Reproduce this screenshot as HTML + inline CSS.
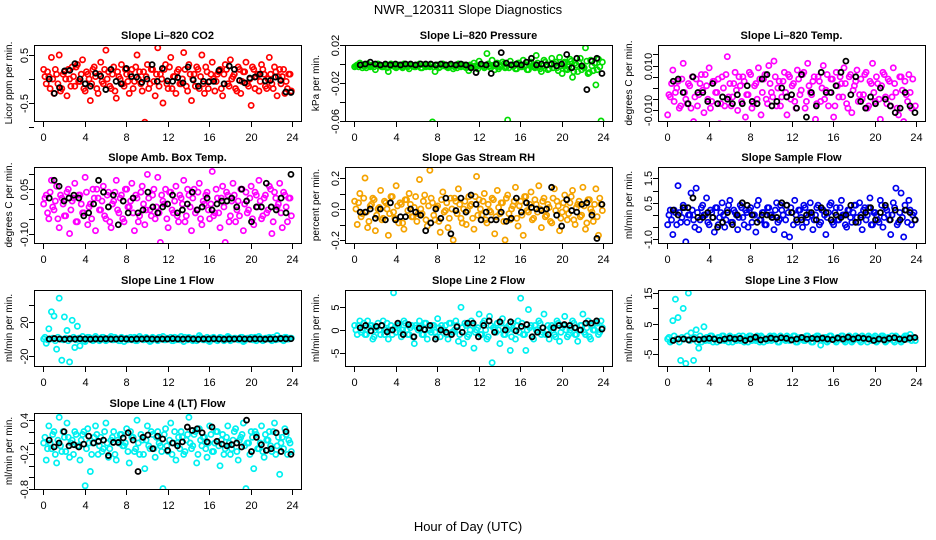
<!DOCTYPE html>
<html><head><meta charset="utf-8"><title>NWR_120311 Slope Diagnostics</title>
<style>
html,body{margin:0;padding:0;background:#fff;}
svg{display:block;font-family:"Liberation Sans",Arial,sans-serif;}
</style></head>
<body>
<svg id="chart" width="936" height="540" viewBox="0 0 936 540" xmlns="http://www.w3.org/2000/svg">
<text x="468" y="14" text-anchor="middle" font-size="13">NWR_120311  Slope Diagnostics</text>
<text x="468" y="531" text-anchor="middle" font-size="13">Hour of Day (UTC)</text>
</svg>
<script>
const hourTicks = [0,4,8,12,16,20,24];

const co2Color = [0.2,-0.1,0.05,0.45,-0.3,0.1,0.5,-0.2,0.15,-0.35,0.0,0.25,-0.15,0.3,-0.05,0.4,-0.25,0.1,-0.45,0.2,0.05,-0.3,0.35,-0.1,0.6,0.15,-0.2,0.25,-0.4,0.05,0.3,-0.15,0.1,-0.3,0.2,-0.05,0.5,0.15,-0.25,-0.9,0.3,-0.1,0.2,-0.35,0.65,0.1,-0.5,0.3,-0.2,0.45,0.05,-0.3,0.2,-0.1,0.55,-0.15,0.3,-0.45,0.1,0.25,-0.2,0.5,-0.3,0.15,-0.05,0.35,-0.25,0.1,0.2,-0.35,0.3,-0.1,0.4,0.05,-0.2,0.25,-0.3,0.15,0.35,-0.15,-0.55,0.2,0.05,-0.25,0.3,0.1,-0.2,0.45,-0.1,0.25,-0.35,0.2,0.05,-0.3,-0.2,0.1];
const co2Color2 = [0.05,0.15,-0.2,0.0,0.2,-0.1,-0.25,0.1,0.0,0.2,-0.15,0.05,0.25,-0.05,0.1,-0.2,0.15,0.0,-0.1,0.25,-0.2,0.1,-0.05,0.2,0.0,-0.15,0.1,-0.25,0.15,0.0,-0.1,0.2,-0.05,0.1,-0.2,0.25,0.0,-0.1,0.15,0.05,-0.2,0.2,-0.05,0.1,-0.15,0.0,0.2,-0.1,0.25,-0.2,0.05,0.15,-0.1,0.0,0.2,-0.25,0.1,0.0,-0.15,0.2,0.05,-0.1,0.25,-0.2,0.1,0.0,-0.05,0.15,-0.2,0.1,0.2,-0.15,0.0,0.1,-0.25,0.2,-0.05,0.15,-0.1,0.0,0.25,-0.2,0.1,-0.05,0.2,-0.15,0.0,0.1,-0.2,0.15,0.05,-0.1,0.2,-0.05,0.1,-0.25];
const co2Black = [0.0,-0.3,-0.18,0.17,0.18,0.32,0.0,-0.1,-0.15,0.12,0.06,-0.22,0.2,-0.05,-0.1,0.22,0.05,0.04,-0.07,0.0,0.3,-0.05,0.22,-0.04,-0.05,0.03,-0.08,0.25,-0.02,-0.15,-0.05,-0.06,-0.05,0.18,-0.1,0.27,0.2,-0.03,-0.08,0.02,0.04,0.1,-0.04,-0.03,0.04,-0.03,-0.27,-0.28];
const co2Ticks = [-1,-0.5,0,0.5];
const co2Labels = ["","-0.5","","0.5"];

const presColor = [-0.003,-0.001,0.001,-0.004,-0.002,0.0,-0.003,-0.001,-0.006,0.0,-0.002,-0.003,-0.001,-0.008,0.0,-0.002,-0.004,-0.001,-0.003,0.0,-0.002,-0.005,-0.001,-0.003,-0.002,0.0,-0.004,-0.001,-0.002,-0.003,-0.061,-0.008,-0.001,-0.003,0.0,-0.002,-0.004,-0.001,-0.005,-0.002,0.0,-0.003,-0.001,-0.004,-0.007,-0.002,0.001,-0.003,0.003,-0.001,-0.004,0.011,-0.002,0.004,-0.006,0.001,-0.003,0.002,-0.004,-0.059,0.003,-0.002,-0.005,0.001,-0.003,0.004,-0.001,-0.006,0.002,-0.003,0.009,-0.002,-0.008,0.004,-0.001,-0.005,0.006,0.0,-0.004,0.007,-0.010,0.002,-0.006,0.005,-0.014,0.001,-0.008,0.006,-0.003,0.017,-0.010,0.004,-0.007,-0.022,0.005,-0.060];
const presColor2 = [-0.002,-0.003,-0.001,-0.002,-0.004,-0.001,-0.002,-0.003,-0.001,-0.002,-0.003,-0.002,-0.004,-0.001,-0.002,-0.003,-0.001,-0.002,-0.004,-0.002,-0.003,-0.001,-0.002,-0.003,-0.002,-0.004,-0.001,-0.003,-0.002,-0.001,-0.003,-0.002,-0.004,-0.001,-0.002,-0.003,-0.001,-0.002,-0.003,-0.004,-0.002,-0.001,-0.003,-0.002,-0.001,-0.003,-0.002,-0.005,-0.001,-0.002,-0.003,0.0,-0.004,-0.002,-0.001,-0.005,-0.002,0.0,-0.003,-0.004,-0.001,-0.002,-0.005,0.001,-0.003,-0.002,-0.006,0.0,-0.002,-0.004,0.001,-0.005,-0.002,0.002,-0.006,-0.001,-0.004,0.002,-0.007,-0.002,0.001,-0.005,-0.003,0.003,-0.008,-0.001,0.002,-0.006,-0.004,0.003,-0.009,-0.002,0.001,-0.006,-0.003,0.002];
const presBlack = [-0.001,0.0,0.002,0.0,-0.001,0.0,-0.001,0.0,-0.001,0.0,0.0,-0.001,0.0,0.0,0.0,-0.001,0.0,-0.001,0.0,-0.001,0.0,-0.001,-0.004,-0.009,0.0,-0.001,-0.01,0.0,0.012,0.001,-0.001,0.0,-0.001,0.002,0.006,-0.001,0.0,-0.001,0.0,-0.002,0.0,0.01,-0.004,0.006,-0.002,-0.027,0.003,0.006,-0.01];
const presTicks = [-0.06,-0.04,-0.02,0,0.02];
const presLabels = ["-0.06","","-0.02","","0.02"];

const tempColor = [-0.012,-0.004,0.008,-0.002,0.003,-0.008,0.011,-0.005,0.002,-0.009,-0.015,0.004,-0.003,0.006,-0.011,0.001,0.009,-0.006,0.003,-0.002,-0.016,0.005,-0.008,0.014,0.002,-0.004,0.007,-0.010,0.001,0.005,-0.013,-0.003,0.006,-0.007,0.002,0.009,-0.012,0.004,-0.005,0.010,-0.002,0.012,-0.008,0.003,-0.004,0.007,-0.012,0.005,0.001,-0.006,0.008,-0.003,0.006,-0.009,0.011,-0.002,0.003,-0.014,0.005,-0.006,0.010,-0.001,-0.008,0.004,-0.013,0.007,-0.004,0.002,0.009,-0.007,0.005,-0.011,0.001,0.008,-0.003,-0.005,0.006,-0.009,0.003,0.011,-0.006,0.002,-0.014,0.007,-0.004,0.004,-0.008,0.009,-0.002,-0.012,0.005,-0.015,-0.003,0.006,-0.009,-0.018];
const tempColor2 = [-0.003,0.002,-0.006,0.000,-0.009,0.004,-0.002,-0.007,0.001,0.005,-0.004,-0.008,0.002,-0.001,0.006,-0.005,-0.009,0.003,-0.002,0.004,-0.007,0.000,0.006,-0.004,-0.008,0.002,-0.001,0.005,-0.006,0.003,-0.003,0.007,-0.009,0.001,-0.005,0.004,-0.002,0.006,-0.007,0.002,-0.004,0.005,0.000,-0.008,0.003,-0.002,0.006,-0.005,0.002,-0.009,0.004,-0.001,0.007,-0.006,0.001,-0.003,0.005,-0.007,0.003,0.000,-0.005,0.006,-0.002,0.004,-0.008,0.001,0.005,-0.004,0.002,-0.009,0.006,-0.001,0.003,-0.006,0.004,-0.003,0.007,-0.008,0.002,-0.002,0.005,-0.005,0.001,0.006,-0.007,0.003,-0.004,0.002,-0.009,0.005,-0.001,0.003,-0.006,-0.002,0.004,-0.008];
const tempBlack = [0.003,0.004,-0.002,-0.007,0.005,-0.002,-0.002,-0.006,0.002,-0.007,-0.004,-0.005,-0.007,-0.003,-0.007,0.001,-0.006,-0.007,0.004,0.006,-0.008,-0.006,0.0,-0.004,-0.003,-0.009,0.006,-0.013,-0.002,-0.008,0.007,-0.002,-0.002,0.001,0.007,0.012,-0.003,0.005,-0.006,-0.009,-0.004,-0.007,0.0,-0.005,-0.008,-0.011,-0.009,-0.002,-0.008,-0.011];
const tempTicks = [-0.010,-0.005,0,0.005,0.010,0.015];
const tempLabels = ["-0.010","","","","0.010",""];

const ambColor = [0.0,0.03,-0.05,0.08,-0.02,0.06,-0.08,0.02,-0.04,0.04,-0.1,0.01,0.07,-0.06,0.03,-0.03,0.09,-0.07,0.0,0.05,-0.09,0.02,-0.02,0.06,-0.05,0.04,-0.08,0.01,0.08,-0.03,0.03,-0.06,0.05,-0.01,0.07,-0.09,0.02,-0.04,0.06,-0.07,0.1,-0.02,0.03,-0.05,0.09,-0.13,0.01,0.05,-0.08,0.04,-0.03,0.06,-0.06,0.02,0.08,-0.04,0.03,-0.09,0.05,-0.02,0.07,-0.07,0.0,0.04,-0.05,0.11,-0.03,0.02,-0.08,0.06,-0.13,0.03,-0.04,0.07,-0.06,0.01,0.05,-0.09,0.04,-0.02,0.06,-0.07,0.03,0.08,-0.05,0.02,-0.03,0.06,-0.1,0.04,-0.01,0.07,-0.08,0.03,-0.06,0.02];
const ambColor2 = [0.02,-0.03,0.04,-0.01,0.01,-0.05,0.03,0.0,-0.04,0.05,-0.02,0.02,-0.06,0.03,0.0,-0.03,0.04,-0.01,-0.05,0.02,0.05,-0.02,0.01,-0.04,0.03,-0.06,0.0,0.04,-0.02,0.02,-0.05,0.05,-0.01,0.01,-0.03,0.03,-0.06,0.04,0.0,-0.02,0.02,-0.04,0.05,-0.01,-0.03,0.03,0.0,-0.05,0.04,-0.02,0.01,-0.04,0.03,0.0,-0.06,0.05,-0.01,0.02,-0.03,0.04,-0.05,0.01,0.03,-0.02,0.0,-0.04,0.05,-0.03,0.02,-0.01,0.04,-0.06,0.01,0.03,-0.02,-0.04,0.05,0.0,-0.03,0.02,-0.05,0.04,-0.01,0.01,-0.04,0.03,-0.02,0.05,-0.06,0.02,0.0,-0.03,0.04,-0.01,0.02,-0.04];
const ambBlack = [0.02,0.08,0.06,0.01,0.02,0.03,0.02,-0.04,-0.03,0.0,0.08,0.04,-0.01,0.03,-0.07,0.01,-0.03,0.02,-0.03,-0.02,0.04,-0.01,-0.03,-0.01,0.0,0.03,-0.03,-0.02,0.0,0.04,-0.02,-0.01,0.02,-0.02,0.0,0.01,0.01,0.02,-0.01,0.05,0.01,-0.06,-0.01,-0.01,0.07,-0.01,-0.02,0.02,-0.03,0.1];
const ambTicks = [-0.10,-0.05,0,0.05,0.10];
const ambLabels = ["-0.10","","","0.05",""];

const rhColor = [0.05,-0.1,0.1,-0.03,0.2,-0.12,0.02,0.07,-0.14,0.0,0.12,-0.06,0.04,-0.17,0.08,-0.02,0.15,-0.09,0.03,-0.13,0.06,0.1,-0.05,0.01,-0.08,0.19,-0.03,0.09,-0.11,0.25,0.04,-0.07,0.02,-0.15,0.11,-0.01,-0.12,0.07,-0.2,0.05,0.13,-0.06,0.0,-0.1,0.08,0.03,-0.13,0.21,0.06,-0.04,0.1,-0.09,-0.01,0.07,-0.16,0.12,-0.03,0.04,-0.2,0.09,-0.07,0.02,0.14,-0.11,0.05,-0.17,0.08,-0.02,0.11,-0.06,0.03,0.15,-0.12,0.07,-0.04,0.01,-0.09,0.13,0.05,-0.14,-0.02,0.09,-0.07,0.04,0.12,-0.1,0.03,-0.05,0.14,-0.13,0.06,0.0,-0.08,0.13,-0.17,0.03];
const rhColor2 = [0.0,0.04,-0.05,0.07,-0.02,-0.08,0.03,0.06,-0.04,0.01,-0.07,0.05,0.0,-0.03,0.08,-0.06,0.02,0.04,-0.09,0.06,-0.01,0.03,-0.05,0.08,-0.03,0.0,0.05,-0.07,0.02,0.07,-0.04,0.01,-0.08,0.06,-0.02,0.04,-0.06,0.0,0.07,-0.03,0.03,-0.09,0.05,-0.01,0.02,-0.06,0.08,-0.04,0.0,0.05,-0.07,0.03,-0.02,0.06,-0.05,0.01,0.04,-0.08,0.07,-0.03,0.0,0.05,-0.06,0.02,-0.04,0.08,-0.01,0.03,-0.07,0.06,-0.02,0.0,0.05,-0.05,0.03,-0.08,0.07,-0.01,0.02,-0.06,0.04,0.0,-0.03,0.08,-0.07,0.01,0.05,-0.04,0.02,-0.09,0.06,-0.02,0.03,-0.05,0.07,-0.01];
const rhBlack = [-0.02,-0.02,0.0,-0.06,0.0,-0.07,0.04,-0.07,-0.05,-0.05,0.0,-0.02,-0.04,-0.14,-0.09,0.0,-0.06,0.07,-0.16,-0.01,0.07,-0.02,0.09,0.03,-0.07,-0.02,-0.07,-0.07,-0.02,-0.08,-0.06,0.07,-0.02,0.04,0.01,0.0,-0.01,0.0,0.14,-0.04,-0.11,0.06,-0.01,-0.02,0.03,0.04,-0.04,-0.19,0.03];
const rhTicks = [-0.2,-0.1,0,0.1,0.2];
const rhLabels = ["-0.2","","0.0","","0.2"];

const sampColor = [-0.4,0.2,-0.8,0.1,1.2,-0.3,0.4,-1.1,0.0,0.9,-0.2,1.1,-0.6,0.3,0.0,0.7,-0.4,0.1,-0.7,0.3,-0.1,0.5,-0.5,0.2,0.6,-0.3,0.1,-0.6,0.4,-0.1,0.2,-0.5,0.3,0.0,-0.7,0.6,-0.2,0.1,-0.4,0.3,0.0,-0.6,0.5,-0.2,0.2,-0.8,0.4,-0.9,0.1,0.6,-0.3,0.2,-0.5,0.3,-0.1,0.5,-0.6,0.0,0.4,-0.3,0.2,-0.8,0.1,0.5,-0.4,0.3,-0.2,0.6,0.0,-0.5,0.2,-0.3,0.4,-0.1,0.5,-0.6,0.3,0.0,0.7,-0.4,0.1,-0.2,0.6,-0.5,0.3,0.0,-0.8,0.5,1.1,-0.3,0.9,-0.9,0.2,0.6,-0.4,0.1];
const sampColor2 = [0.0,-0.2,0.2,-0.4,0.1,-0.1,0.3,-0.3,0.0,0.2,-0.5,0.1,-0.2,0.4,0.0,-0.3,0.2,-0.1,0.3,-0.4,0.1,0.0,-0.2,0.4,-0.3,0.2,0.0,-0.1,0.3,-0.4,0.1,0.2,-0.3,0.0,0.4,-0.2,0.1,-0.4,0.3,0.0,-0.1,0.2,-0.3,0.4,0.0,-0.2,0.1,0.3,-0.4,0.0,0.2,-0.1,0.4,-0.3,0.1,0.0,-0.2,0.3,-0.4,0.2,0.0,-0.1,0.4,-0.3,0.1,-0.2,0.3,0.0,-0.4,0.2,-0.1,0.1,0.4,-0.3,0.0,0.2,-0.2,0.3,-0.4,0.1,0.0,-0.3,0.4,-0.1,0.2,-0.2,0.0,0.3,-0.4,0.1,-0.1,0.4,-0.3,0.2,0.0,-0.2];
const sampBlack = [0.2,0.0,0.3,0.3,0.7,-0.1,-0.1,0.1,-0.1,-0.5,-0.3,0.1,-0.4,0.0,0.5,0.4,0.0,-0.3,0.0,0.0,-0.1,-0.1,0.5,0.4,0.1,-0.2,-0.2,0.0,0.1,-0.2,0.3,0.1,-0.2,0.0,-0.1,0.0,0.4,-0.3,-0.1,0.1,0.3,-0.2,0.1,0.4,-0.2,0.2,-0.2,0.2,0.1,-0.2];
const sampTicks = [-1.0,-0.5,0,0.5,1.0,1.5];
const sampLabels = ["-1.0","","","0.5","","1.5"];

const l1Color = [0,-5,12,32,27,-12,48,-25,26,10,-27,22,-10,15,-8,3,-3,2,1,-2,3,0,-1,2,-2,1,3,-1,0,-2,2,-3,1,0,-1,2,-2,3,0,1,-1,-3,2,0,-2,1,3,-1,0,2,-2,-1,1,3,-3,0,2,-1,1,-2,4,0,-1,2,-3,1,0,-2,2,1,-1,3,-2,0,1,-1,2,-3,0,1,2,-1,-2,3,0,-1,1,2,-2,0,4,1,-1,2,0,1];
const l1Color2 = [2,-1,0,1,-2,2,0,-1,1,-2,0,2,-1,1,0,-2,1,2,-1,0,1,-2,2,0,-1,1,-1,2,0,-2,1,0,-1,2,1,-2,0,1,-1,2,0,-2,1,-1,2,0,-1,1,0,-2,2,1,-1,0,2,-1,1,-2,0,1,2,-1,0,-2,1,2,-1,0,1,-2,0,2,-1,1,0,-1,2,-2,1,0,-1,2,0,1,-2,1,0,-1,2,-1,0,1,-2,2,0,1];
const l1Black = [0,0.5,0,-0.3,0.2,0,0.3,0,-0.2,0.1,0,0.2,-0.1,0,0.3,0,-0.3,0.1,0,0.2,0,-0.2,0.1,0,0.4,0,-0.1,0.2,0,-0.3,0.1,0,0.2,0,-0.2,0.1,0,0.3,0,-0.1,0.2,0,-0.2,0.1,0,0.5,0.2,0.3];
const l1Ticks = [-20,0,20,40];
const l1Labels = ["-20","","20",""];

const l2Color = [1,-1,2,0,-1,2,1,-2,0,1.5,-1,2,0,-2,1,8.2,-0.5,1,-1.5,2,0,-1,1,-3,0.5,2,-1,1.5,-2,0,1,-0.5,2.5,-1.5,0,1,-2,1.5,-0.5,2,-2.5,5,-3,1,-1,2,-4,0,3.5,-1,2,-2,3,-7.2,0,1.5,-3,2.5,-1,0,-4.5,1.5,-2,2,7,-1,-4.5,4.5,1,-2,0,2,-1,3.5,0,-2,1,-1,2,-2.5,0.5,3,-1.5,0,2,-1,-2.5,1,3.5,-1,2,-2,0,1.5,-1,2];
const l2Color2 = [0,1,-0.5,1.5,-1,0.5,1,-1.5,0.5,0,1,-1,1.5,0,-1,0.5,1,-0.5,0,1.5,-1,0.5,-1.5,1,0,0.5,-1,1.5,0,-0.5,1,-1.5,0.5,1,0,-1,1.5,-0.5,0,1,-1,0.5,1.5,-1.5,0,1,-0.5,0.5,-1,1.5,0,-1.5,1,0.5,-0.5,0,1.5,-1,0.5,1,-1.5,0,1,-0.5,1.5,-1,0,0.5,-1.5,1,0,1.5,-0.5,-1,1,0.5,0,-1.5,1.5,-0.5,1,0,-1,0.5,1.5,-1,0,1,-0.5,0.5,-1.5,1,0,1.5,-0.5,0.5];
const l2Black = [0.5,1,-0.2,0.8,1,-0.4,0,1.5,-1,1.2,-1.5,0.4,0.1,1,-2,0,-0.5,-1,0.7,-0.5,1.5,1.5,-1.5,1,2,-0.5,1.8,0,1.8,-0.2,0.8,1.2,-1.5,-0.5,0.5,-1,0.5,1,1.2,1,0.5,0,1.5,1.5,2,0.2];
const l2Ticks = [-5,0,5];
const l2Labels = ["-5","0","5"];

const l3Color = [0,-1,6,13,7,-7,10,-8,15,2,-7,3,-3,-1,4,0.5,-0.5,1,0,-1,0.5,1,-0.5,0,1,-1,0.5,0,-0.5,1,0,-1,1,0.5,-0.5,0,1,-1,0,0.5,-0.5,1,0,-1,0.5,0,1,-0.5,0,1,-1,0.5,0,-0.5,1,0,-1,0.5,1,-2,0,0.5,-0.5,1,0,-1,0.5,1,-0.5,0,1,-1,0,0.5,-0.5,1,0,-1,0.5,0,1,-0.5,0,1,-1,0.5,0,-0.5,1,0,-1,0.5,1,0,-0.5,0.5];
const l3Color2 = [0.5,-0.5,1,0,-1,0.5,0,1,-0.5,0,0.5,-1,1,0,-0.5,0.5,1,-1,0,0.5,-0.5,1,0,-1,0.5,0,-0.5,1,0,-1,0.5,1,-0.5,0,1,-1,0.5,0,-0.5,1,0,0.5,-1,1,0,-0.5,0.5,0,1,-1,0,0.5,-0.5,1,0,-1,0.5,1,0,-0.5,0.5,-1,1,0,-0.5,0.5,0,1,-1,0.5,0,-0.5,1,0,-1,0.5,0,1,-0.5,0.5,-1,0,1,0.5,-0.5,0,1,-1,0.5,0,-0.5,1,0,1.5,0.5,-0.5];
const l3Black = [-0.5,0,0,-0.3,0,-0.2,0,0.2,0,-0.4,0,0.3,0,0.2,-0.5,0,0.6,-0.3,0,0.3,0,0.4,0.2,-0.3,0,0.5,0,0.2,0,0.3,0,-0.2,0.3,0,0.6,0,0.4,0.2,0,-0.5,0,-0.3,0.2,0.4,0,-0.2,0.3,0.5];
const l3Ticks = [-5,0,5,10,15];
const l3Labels = ["-5","","5","","15"];

const l4Color = [0.0,-0.3,0.3,-0.1,0.2,-0.35,0.45,-0.15,0.1,0.35,-0.25,0.05,0.2,-0.05,-0.3,0.15,-0.75,0.25,-0.5,0.0,0.3,-0.2,0.1,-0.1,0.35,-0.25,0.05,0.2,-0.3,0.0,0.15,-0.05,0.25,-0.35,0.1,-0.15,0.4,-0.2,0.05,-0.45,0.3,-0.1,0.15,-0.25,0.2,-0.05,-0.8,0.25,-0.15,0.35,0.0,-0.3,0.1,0.2,-0.2,0.05,0.45,-0.1,0.15,-0.35,0.25,-0.05,0.1,-0.25,0.3,-0.15,0.0,0.2,-0.4,0.15,-0.1,0.3,-0.2,0.05,0.25,-0.3,0.1,0.35,-0.8,0.0,0.2,-0.45,0.15,-0.1,0.3,-0.25,0.05,0.2,-0.15,0.35,-0.05,-0.55,0.1,0.25,-0.2,0.0];
const l4Color2 = [0.1,-0.1,0.0,0.15,-0.2,0.05,-0.05,0.2,-0.15,0.1,0.0,-0.2,0.15,-0.05,0.05,0.2,-0.1,0.0,-0.2,0.1,0.15,-0.05,-0.15,0.2,0.0,-0.1,0.1,-0.2,0.05,0.15,-0.05,0.0,-0.15,0.2,0.1,-0.1,0.0,0.15,-0.2,0.05,-0.05,0.2,-0.1,0.1,0.0,-0.15,0.15,-0.05,0.05,-0.2,0.2,0.0,-0.1,0.1,-0.15,0.15,0.0,-0.05,0.2,-0.2,0.05,0.1,-0.1,0.0,0.15,-0.15,0.2,-0.05,0.05,-0.2,0.1,0.0,-0.1,0.2,-0.15,0.05,0.15,-0.05,0.0,-0.2,0.1,0.2,-0.1,0.0,-0.15,0.15,0.05,-0.05,0.2,-0.2,0.1,0.0,-0.1,0.15,0.05,-0.15];
const l4Black = [0.05,-0.07,0.0,0.2,-0.05,-0.03,-0.07,-0.02,0.12,0.0,0.03,0.05,-0.22,0.01,0.01,0.09,0.18,0.05,-0.5,0.1,0.14,-0.1,0.12,0.07,-0.13,0.0,-0.05,0.02,0.28,0.22,0.25,0.18,0.02,0.28,0.03,-0.02,-0.05,-0.03,0.0,-0.07,0.4,-0.15,0.1,-0.03,-0.13,-0.1,0.18,-0.15,0.2,-0.2];
const l4Ticks = [-0.8,-0.6,-0.4,-0.2,0,0.2,0.4];
const l4Labels = ["-0.8","","","-0.2","","","0.4"];

const NS = "http://www.w3.org/2000/svg";
const svg = document.getElementById("chart");
function mk(tag, attrs, parent){ const e=document.createElementNS(NS,tag); for(const k in attrs) e.setAttribute(k,attrs[k]); (parent||svg).appendChild(e); return e; }

const colX = [34, 345, 658];
const rowY = [45, 167, 290, 413];
const W = 267, H = 76;

function panel(id, col, row, title, ylab, colorSets, blackVals, yTicks, yLabels, y0val, pxPerUnit, color){
  const bx = colX[col], by = rowY[row];
  const g = mk("g", {});
  
  
  const xs = h => bx + 9 + h * (W - 18) / 24;
  const yZero = by + y0val;
  const ys = v => yZero - v * pxPerUnit;
  const clip = mk("clipPath", {id: id + "-clip"}, g);
  mk("rect", {x: bx, y: by, width: W, height: H}, clip);
  const t = mk("text", {x: bx + W/2, y: by - 6, "text-anchor": "middle", "font-size": "11", "font-weight": "bold"}, g);
  t.textContent = title;
  
  
  const yl = mk("text", {transform: `translate(${col===0?12:bx-26},${by + H/2}) rotate(-90)`, "text-anchor": "middle", "font-size": "10"}, g);
  yl.textContent = ylab;
  
  
  const pts = mk("g", {"clip-path": `url(#${id}-clip)`}, g);
  
  
  colorSets.forEach((vals, s) => {
    vals.forEach((v, i) => {
      const c = mk("circle", {cx: xs((i + 0.25 + s * 0.5) * 24 / vals.length), cy: ys(v), r: 2.6, fill: "none", stroke: color, "stroke-width": 1.7}, pts);
      
      
    });
  });
  blackVals.forEach((v, i) => {
    const c = mk("circle", {cx: xs(0.6 + i * 23.3 / (blackVals.length - 1)), cy: ys(v), r: 2.5, fill: "none", stroke: "#000", "stroke-width": 1.8}, pts);
    
    
  });
  const box = mk("rect", {x: bx + 0.5, y: by + 0.5, width: W, height: H, fill: "none", stroke: "#000", "stroke-width": 1}, g);
  
  
  const xa = mk("g", {}, g);
  
  
  hourTicks.forEach(h => {
    const x = Math.round(xs(h)) + 0.5;
    mk("line", {x1: x, x2: x, y1: by + H + 1, y2: by + H + 6, stroke: "#000"}, xa);
    const tl = mk("text", {x: x, y: by + H + 20, "text-anchor": "middle", "font-size": "11"}, xa);
    tl.textContent = h;
  });
  const ya = mk("g", {}, g);
  
  
  yTicks.forEach((v, i) => {
    const y = Math.round(ys(v)) + 0.5;
    mk("line", {x1: bx - 5, x2: bx, y1: y, y2: y, stroke: "#000"}, ya);
    if (yLabels[i]) {
      const tl = mk("text", {transform: `translate(${bx - 6},${y}) rotate(-90)`, "text-anchor": "middle", "font-size": "11"}, ya);
      tl.textContent = yLabels[i];
    }
  });
}

panel("co2", 0, 0, "Slope Li\u2013820 CO2", "Licor ppm per min.", [co2Color, co2Color2], co2Black, co2Ticks, co2Labels, 34, 48, "#ff0000");
panel("pressure", 1, 0, "Slope Li\u2013820 Pressure", "kPa per min.", [presColor, presColor2], presBlack, presTicks, presLabels, 19, 950, "#00dd00");
panel("temp", 2, 0, "Slope Li\u2013820 Temp.", "degrees C per min.", [tempColor, tempColor2], tempBlack, tempTicks, tempLabels, 43, 2240, "#ff00ff");
panel("ambtemp", 0, 1, "Slope Amb. Box Temp.", "degrees C per min.", [ambColor, ambColor2], ambBlack, ambTicks, ambLabels, 37, 296, "#ff00ff");
panel("rh", 1, 1, "Slope Gas Stream RH", "percent per min.", [rhColor, rhColor2], rhBlack, rhTicks, rhLabels, 42, 155, "#f5a300");
panel("sampleflow", 2, 1, "Slope Sample Flow", "ml/min per min.", [sampColor, sampColor2], sampBlack, sampTicks, sampLabels, 48, 24.4, "#0000ee");
panel("line1", 0, 2, "Slope Line 1 Flow", "ml/min per min.", [l1Color, l1Color2], l1Black, l1Ticks, l1Labels, 49, 0.85, "#00f0f0");
panel("line2", 1, 2, "Slope Line 2 Flow", "ml/min per min.", [l2Color, l2Color2], l2Black, l2Ticks, l2Labels, 40, 4.54, "#00f0f0");
panel("line3", 2, 2, "Slope Line 3 Flow", "ml/min per min.", [l3Color, l3Color2], l3Black, l3Ticks, l3Labels, 49, 3.06, "#00f0f0");
panel("line4", 0, 3, "Slope Line 4 (LT) Flow", "ml/min per min.", [l4Color, l4Color2], l4Black, l4Ticks, l4Labels, 30, 57, "#00f0f0");
</script>
</body></html>
